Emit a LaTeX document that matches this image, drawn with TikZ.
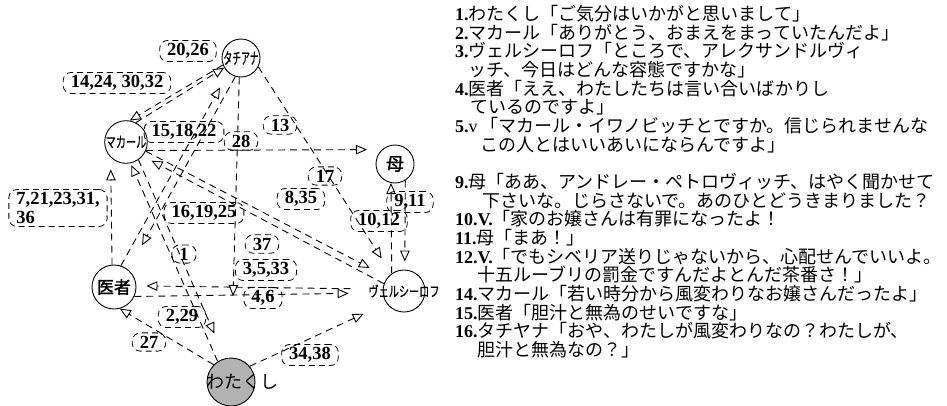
\documentclass[tikz,border=0pt]{standalone}
\usepackage{fontspec}
\setmainfont{Liberation Serif}
\newfontfamily\jp{Noto Sans CJK JP}
\newfontfamily\jpbold[FakeBold=1.6]{Noto Sans CJK JP}
\newfontfamily\jpsemi[FakeBold=0.8]{Noto Sans CJK JP}
\usetikzlibrary{arrows.meta}
\begin{document}
\begin{tikzpicture}[x=1pt,y=-1pt,
  person/.style={draw, circle, line width=0.9pt, inner sep=0pt},
  lbl/.style={draw, dash pattern=on 6pt off 4pt, rounded corners=8pt, line width=0.8pt,
              inner xsep=7.5pt, inner ysep=3pt, font=\fontsize{18.5}{18.5}\selectfont\bfseries},
  conv/.style={dash pattern=on 7pt off 5pt, line width=0.9pt,
               -{Triangle[open, length=11pt, width=9.5pt, line width=0.9pt]}},
  row/.style={anchor=base west, inner sep=0pt, font=\fontsize{18}{18}\selectfont}
]
\useasboundingbox (0,0) rectangle (947,405);

% persons
\node[person, minimum size=38pt] (T) at (241,58) {\jpsemi\fontsize{16}{16}\selectfont\scalebox{0.55}[1]{タチアナ}};
\node[person, minimum size=40pt] (M) at (126,142) {\jpsemi\fontsize{15}{15}\selectfont\scalebox{0.68}[1]{マカール}};
\node[person, minimum size=38pt] (Mo) at (395,164) {\jpbold\fontsize{18}{18}\selectfont 母};
\node[person, minimum size=44pt] (D) at (114,287) {\jpbold\fontsize{17}{17}\selectfont 医者};
\node[person, minimum size=42pt] (V) at (404,291) {\makebox[0pt]{\jpsemi\fontsize{14.5}{14.5}\selectfont\scalebox{0.7}[1]{ヴェルシーロフ}}};
\node[person, minimum size=48pt, fill=gray!60] (W) at (231,382) {};
\node[anchor=west, inner sep=0pt, font=\jp\fontsize{18}{18}\selectfont] (Wt) at (W.west) {わたくし};

% labels
\node[lbl] (l2026) at (188,51) {20,26};
\node[lbl] (l14) at (117,83) {14,24, 30,32};
\node[lbl] (l15) at (184,132) {15,18,22};
\node[lbl] (l28) at (241,141) {28};
\node[lbl] (l13) at (280,125) {13};
\node[lbl] (l17) at (325,176) {17};
\node[lbl] (l835) at (301,199) {8,35};
\node[lbl, align=left] (l7) at (58,208) {7,21,23,31,\\36};
\node[lbl] (l16) at (204,213) {16,19,25};
\node[lbl] (l1) at (184,254) {1};
\node[lbl] (l37) at (262,244) {37};
\node[lbl] (l335) at (266,270) {3,5,33};
\node[lbl] (l46) at (263,298) {4,6};
\node[lbl] (l229) at (182,317) {2,29};
\node[lbl] (l27) at (149,342) {27};
\node[lbl] (l3438) at (310,355) {34,38};
\node[lbl] (l1012) at (379,221) {10,12};
\node[lbl] (l911) at (410,202) {9,11};

% connectors
\coordinate (tip28) at (233,296);
\draw[conv] (T.201) -- (M.80);
\draw[conv] (M.63) -- (T.210);
\draw[conv, shorten >=18pt] (T.333) -- (V.126);
\draw[conv, shorten >=15pt] (M.-23) -- (Mo.132);
\draw[conv] (T.265) -- (tip28);
\draw[conv, shorten >=2pt] (W.123) -- (M.-78);
\draw[conv, shorten >=27pt] (M.-55) -- (W.104);
\draw[conv, shorten >=10pt] (V.160) -- (M.-40);
\draw[conv, shorten >=20pt] (M.-25) -- (V.140);
\draw[conv, shorten >=17pt] (D.72) -- (T.229);
\draw[conv, shorten >=28pt] (T.253) -- (D.50);
\draw[conv, shorten <=32pt, shorten >=10pt] (V.175) -- (D.3);
\draw[conv, shorten >=34pt] (D.-25) -- (V.185);
\draw[conv] (W.135) -- (D.-75);
\draw[conv, shorten >=25pt] (W.40) -- (V.215);
\draw[conv] (V.125) -- (Mo.258);
\draw[conv, shorten >=8pt] (Mo.-58) -- (V.88);
\draw[conv, shorten >=12pt] (D.95) -- (M.225);

% dialogue text
\node[row] (r1) at (455,20.5) {\textbf{1.}{\jp わたくし「ご気分はいかがと思いまして」}};
\node[row] (r2) at (455,39.2) {\textbf{2.}{\jp マカール「ありがとう、おまえをまっていたんだよ」}};
\node[row] (r3) at (455,57.8) {\textbf{3.}{\jp ヴェルシーロフ「ところで、アレクサンドルヴィ}};
\node[row] (r4) at (468,76.5) {\jp ッチ、今日はどんな容態ですかな」};
\node[row] (r5) at (455,95.2) {\textbf{4.}{\jp 医者「ええ、わたしたちは言い合いばかりし}};
\node[row] (r6) at (470,113.9) {\jp ているのですよ」};
\node[row] (r7) at (455,132.5) {\textbf{5.}v\,{\jp「マカール・イワノビッチとですか。信じられませんな}};
\node[row] (r8) at (480,151.2) {\jp この人とはいいあいにならんですよ」};
\node[row] (r9) at (455,188.5) {\textbf{9.}{\jp 母「ああ、アンドレー・ペトロヴィッチ、はやく聞かせて}};
\node[row] (r10) at (482,207.2) {\jp 下さいな。じらさないで。あのひとどうきまりました？};
\node[row] (r11) at (455,225.9) {\textbf{10.V.}{\jp「家のお嬢さんは有罪になったよ！}};
\node[row] (r12) at (455,244.5) {\textbf{11.}{\jp 母「まあ！」}};
\node[row] (r13) at (455,263.2) {\textbf{12.V.}{\jp「でもシベリア送りじゃないから、心配せんでいいよ。}};
\node[row] (r14) at (477,281.9) {\jp 十五ルーブリの罰金ですんだよとんだ茶番さ！」};
\node[row] (r15) at (455,300.5) {\textbf{14.}{\jp マカール「若い時分から風変わりなお嬢さんだったよ」}};
\node[row] (r16) at (455,319.2) {\textbf{15.}{\jp 医者「胆汁と無為のせいですな」}};
\node[row] (r17) at (455,337.9) {\textbf{16.}{\jp タチヤナ「おや、わたしが風変わりなの？わたしが、}};
\node[row] (r18) at (477,356.5) {\jp 胆汁と無為なの？」};
\end{tikzpicture}
\end{document}
